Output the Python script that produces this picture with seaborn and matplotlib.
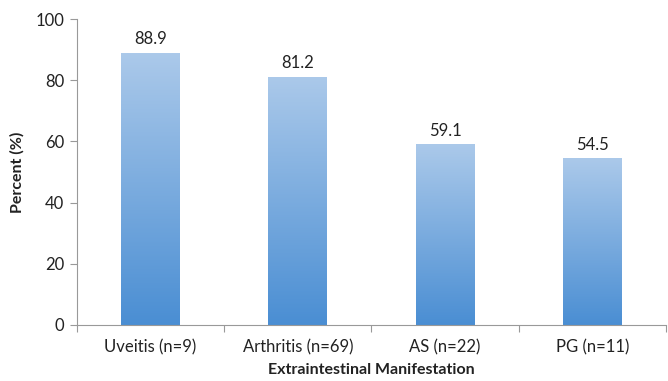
import numpy as np
import pandas as pd
import matplotlib
matplotlib.use("Agg")
import matplotlib.pyplot as plt
from matplotlib.colors import LinearSegmentedColormap
from matplotlib.ticker import FixedLocator
import seaborn as sns

# chart data
categories = ["Uveitis (n=9)", "Arthritis (n=69)", "AS (n=22)", "PG (n=11)"]
percent = [88.9, 81.2, 59.1, 54.5]
y_ticks = [0, 20, 40, 60, 80, 100]

df = pd.DataFrame({"cat": categories, "pct": percent})

sns.set_theme(style="white")
plt.rcParams["font.family"] = ["Lato", "DejaVu Sans"]

fig = plt.figure(figsize=(6.68, 3.81), dpi=100)
ax = fig.add_axes([0.115, 0.147, 0.882, 0.803])

sns.barplot(data=df, x="cat", y="pct", color="#7aaee0", width=0.4, ax=ax)

# vertical gradient fill clipped to each bar
grad = LinearSegmentedColormap.from_list("bar", ["#4a8ed3", "#abc9ea"])
for patch in ax.patches:
    x0, y0 = patch.get_x(), patch.get_y()
    w, h = patch.get_width(), patch.get_height()
    img = ax.imshow(np.linspace(0, 1, 256).reshape(-1, 1), cmap=grad,
                    origin="lower", aspect="auto",
                    extent=[x0, x0 + w, y0, y0 + h], zorder=patch.get_zorder())
    img.set_clip_path(patch)
    patch.set_facecolor("none")
    patch.set_edgecolor("none")
    ax.annotate(f"{h:.1f}", (x0 + w / 2, h), xytext=(0, 4),
                textcoords="offset points", ha="center", va="bottom",
                fontsize=12, color="#222222")

ax.set_xlim(-0.5, len(categories) - 0.5)
ax.set_ylim(0, 100)
ax.set_yticks(y_ticks)

# x tick marks between categories, labels centred
ax.xaxis.set_minor_locator(FixedLocator(np.arange(len(categories) + 1) - 0.5))
ax.tick_params(axis="x", which="major", length=0, pad=10, labelsize=12,
               colors="#222222")
ax.tick_params(axis="x", which="minor", bottom=True, length=5, width=0.8,
               color="#999999")
ax.tick_params(axis="y", left=True, length=5, width=0.8, color="#999999",
               labelsize=12, labelcolor="#222222", pad=4)

for side in ["top", "right"]:
    ax.spines[side].set_visible(False)
for side in ["left", "bottom"]:
    ax.spines[side].set_color("#999999")
    ax.spines[side].set_linewidth(0.8)

ax.set_xlabel("Extraintestinal Manifestation", fontsize=11.5,
              fontweight="bold", color="#222222", labelpad=6)
ax.set_ylabel("Percent (%)", fontsize=11.5, fontweight="bold",
              color="#222222", labelpad=8)

fig.savefig("out.png", dpi=100)
